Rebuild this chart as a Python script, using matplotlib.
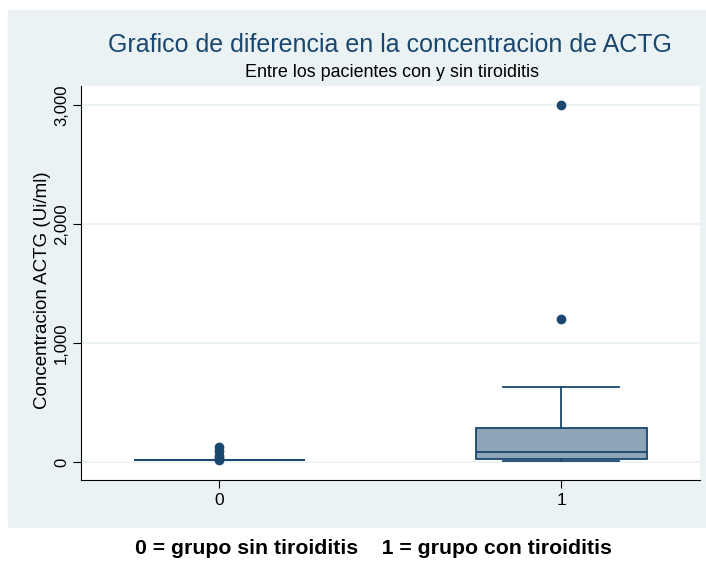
import matplotlib
matplotlib.use("Agg")
import matplotlib.pyplot as plt
from matplotlib.patches import Rectangle

plt.rcParams['font.family'] = ['Liberation Sans', 'DejaVu Sans']

# box-plot summary per group (Ui/ml)
groups = [0, 1]
q1 = [15, 25]
med = [15, 85]
q3 = [15, 285]
whislo = [15, 8]
whishi = [15, 630]
outliers = [[20, 30, 50, 90, 130], [1200, 3000]]

yticks = [0, 1000, 2000, 3000]
ytick_labels = ["0", "1,000", "2,000", "3,000"]

title = "Grafico de diferencia en la concentracion de ACTG"
subtitle = "Entre los pacientes con y sin tiroiditis"
ylabel = "Concentracion ACTG (Ui/ml)"
caption = "0 = grupo sin tiroiditis    1 = grupo con tiroiditis"

navy = "#1A476F"
bg = "#EAF2F3"

fig = plt.figure(figsize=(7.06, 5.67), dpi=100, facecolor="white")
W, H = 706, 567
fig.patches.append(Rectangle((8 / W, 1 - 527 / H), 698 / W, 517 / H,
                             transform=fig.transFigure, color=bg, zorder=-10))
ax = fig.add_axes([81 / W, 1 - 480 / H, 619 / W, 394 / H])
ax.set_zorder(5)
ax.set_facecolor("white")

stats = [dict(q1=a, med=m, q3=b, whislo=lo, whishi=hi, fliers=f, label=str(g))
         for g, a, m, b, lo, hi, f in zip(groups, q1, med, q3, whislo, whishi, outliers)]
ax.bxp(stats, positions=groups, widths=0.5, patch_artist=True, showfliers=True,
       boxprops=dict(facecolor="#8EA4B7", edgecolor=navy, linewidth=1.3),
       medianprops=dict(color=navy, linewidth=1.3),
       whiskerprops=dict(color=navy, linewidth=1.3),
       capprops=dict(color=navy, linewidth=1.3),
       capwidths=0.34,
       flierprops=dict(marker="o", markerfacecolor=navy, markeredgecolor=navy, markersize=6))
ax.set_xlim(-0.404, 1.406)
ax.set_ylim(-151, 3160)
ax.set_yticks(yticks)
ax.set_yticklabels(ytick_labels, rotation=90, va="center", fontsize=12)
ax.set_xticks(groups)
ax.set_xticklabels([str(g) for g in groups], fontsize=12.5)
ax.yaxis.grid(True, color=bg, linewidth=1.2)
ax.set_axisbelow(True)
for s in ["top", "right"]:
    ax.spines[s].set_visible(False)
ax.spines["left"].set_color("black")
ax.spines["bottom"].set_color("black")
ax.tick_params(axis="y", length=6, color="black", pad=2.5)
ax.tick_params(axis="x", length=6, color="black", pad=3.5)

fig.text(43 / W, 1 - 290 / H, ylabel, rotation=90, ha="center", va="center", fontsize=13.5)
fig.text(390 / W, 1 - 45 / H, title, ha="center", va="center", fontsize=18, color=navy)
fig.text(392 / W, 1 - 73 / H, subtitle, ha="center", va="center", fontsize=12.9, color="black")
fig.text(373 / W, 1 - 548 / H, caption, ha="center", va="center", fontsize=15.3,
         fontweight="bold", color="black")

fig.savefig("out.png", dpi=100)
